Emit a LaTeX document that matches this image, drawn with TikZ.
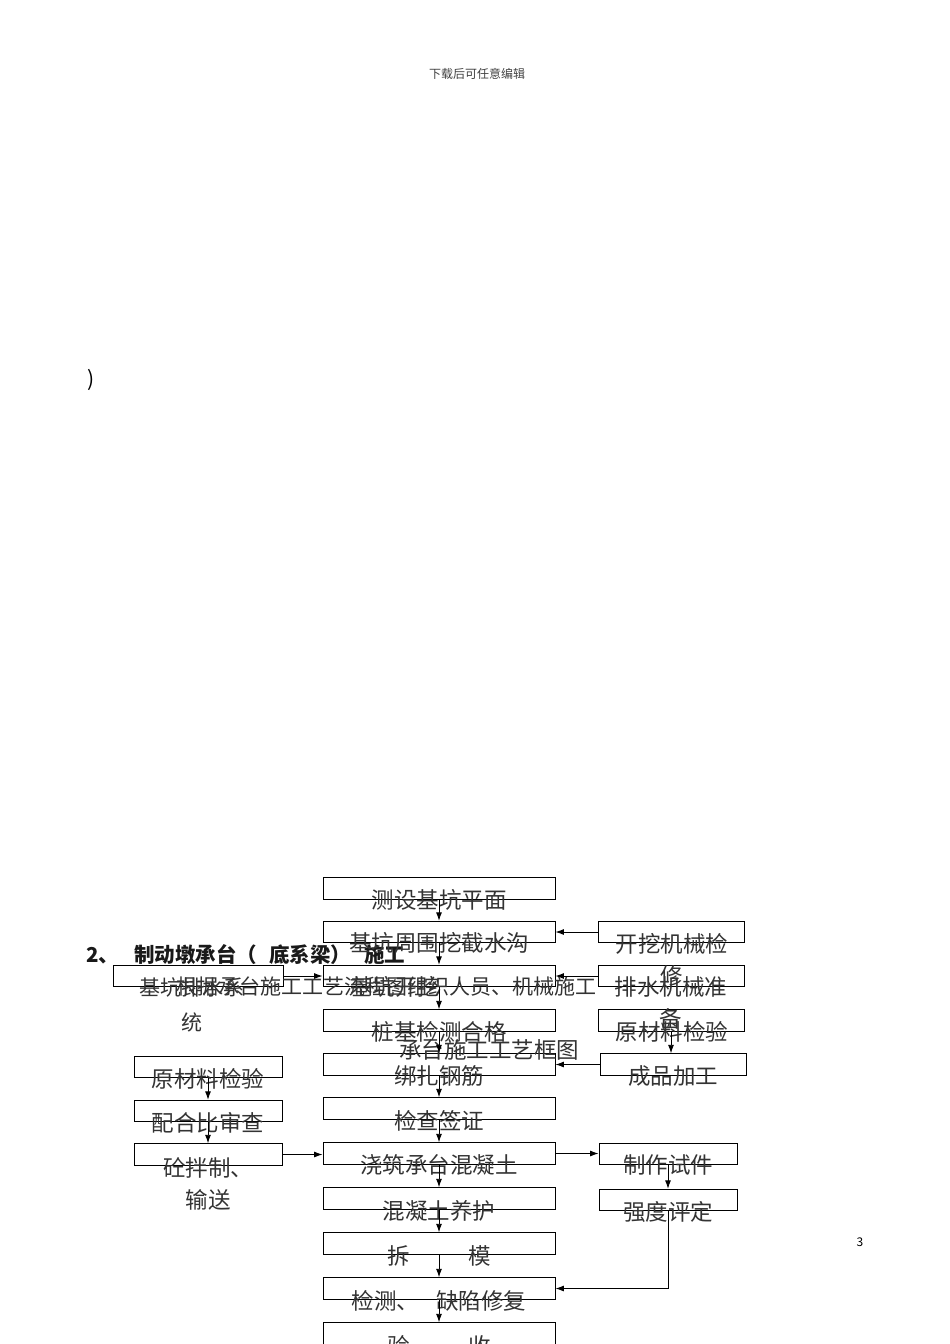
\documentclass[tikz,border=0pt]{standalone}
\usepackage{fontspec}
\setmainfont{Noto Sans CJK SC}
\usetikzlibrary{arrows.meta}

\begin{document}
\begin{tikzpicture}[x=1pt, y=-1pt,
    box/.style={draw, line width=0.9pt, inner sep=0pt, minimum height=21.5pt},
    midbox/.style={box, minimum width=232pt},
    sidebox/.style={box, minimum width=146pt},
    caption/.style={inner sep=0pt, align=center, text=black!80, font=\fontsize{22.5}{32}\selectfont},
    flow/.style={-{Latex[length=8.5pt,width=6pt]}, line width=0.9pt}]
  \useasboundingbox (0,0) rectangle (950,1344);

  \node[inner sep=0pt, text=black!75, font=\fontsize{12}{12}\selectfont] (header) at (477,74) {下载后可任意编辑};
  \node[inner sep=0pt, font=\fontsize{21}{21}\selectfont] (paren) at (91,380) {)};
  \node[inner sep=0pt, font=\fontsize{12}{12}\selectfont] (pagenum) at (860,1242) {3};

  \node[midbox] (c1) at (439,888.5) {};
  \node[midbox] (c2) at (439,932) {};
  \node[midbox] (c3) at (439,976) {};
  \node[midbox] (c4) at (439,1020.5) {};
  \node[midbox] (c5) at (439,1064.5) {};
  \node[midbox] (c6) at (439,1108.5) {};
  \node[midbox] (c7) at (439,1153.5) {};
  \node[midbox] (c8) at (439,1198.5) {};
  \node[midbox] (c9) at (439,1243.5) {};
  \node[midbox] (c10) at (439,1288.5) {};
  \node[midbox] (c11) at (439,1333.5) {};

  \node[sidebox] (r1) at (671,932) {};
  \node[sidebox] (r2) at (671,976) {};
  \node[sidebox] (r3) at (671,1020.5) {};
  \node[sidebox] (r4) at (673,1064.5) {};
  \node[box, minimum width=138pt] (r5) at (668,1154) {};
  \node[box, minimum width=138pt] (r6) at (668,1200) {};

  \node[box, minimum width=170pt] (l0) at (198,976) {};
  \node[box, minimum width=148pt] (l1) at (208,1067) {};
  \node[box, minimum width=148pt] (l2) at (208,1111) {};
  \node[box, minimum width=148pt] (l3) at (208,1154.5) {};

  \node[anchor=west, inner sep=0pt, text=black!90, font=\fontsize{20.5}{20.5}\selectfont\bfseries] (title) at (86,955)
    {2、\hspace{15pt}制动墩承台（\hspace{12pt}底系梁）\hspace{13pt}施工};
  \node[anchor=west, inner sep=0pt, text=black!80, font=\fontsize{21}{21}\selectfont] (para) at (176,987)
    {根据承台施工工艺流程图组织人员、机械施工};
  \node[caption] (figtitle) at (489,1050) {承台施工工艺框图};

  \node[caption] (t1) at (439,900) {测设基坑平面};
  \node[caption] (t2) at (439,943) {基坑周围挖截水沟};
  \node[caption] (t3) at (395,987) {基坑开挖};
  \node[caption] (t4) at (439,1032) {桩基检测合格};
  \node[caption] (t5) at (439,1076) {绑扎钢筋};
  \node[caption] (t6) at (439,1121) {检查签证};
  \node[caption] (t7) at (439,1165) {浇筑承台混凝土};
  \node[caption] (t8) at (439,1211) {混凝土养护};
  \node[caption] (t9) at (439,1256) {拆\hspace{59pt}模};
  \node[caption] (t10) at (439,1301) {检测、\hspace{17pt}缺陷修复};
  \node[caption] (t11) at (439,1346) {验\hspace{59pt}收};

  \node[caption, anchor=north] (tr1) at (672,933) {开挖机械检\\修};
  \node[caption, anchor=north] (tr2) at (671,976) {排水机械准\\备};
  \node[caption] (tr3) at (672,1032) {原材料检验};
  \node[caption] (tr4) at (673,1076) {成品加工};
  \node[caption] (tr5) at (668,1165) {制作试件};
  \node[caption] (tr6) at (668,1212) {强度评定};

  \node[caption, anchor=north, font=\fontsize{21}{35}\selectfont] (tl0) at (192,977) {基坑排水系\\统};
  \node[caption] (tl1) at (208,1079) {原材料检验};
  \node[caption] (tl2) at (208,1123) {配合比审查};
  \node[caption, anchor=north] (tl3) at (208,1157) {砼拌制、\\输送};

  \draw[flow] (c1) -- (c2);
  \draw[flow] (c2) -- (c3);
  \draw[flow] (c3) -- (c4);
  \draw[flow] (c4) -- (c5);
  \draw[flow] (c5) -- (c6);
  \draw[flow] (c6) -- (c7);
  \draw[flow] (c7) -- (c8);
  \draw[flow] (c8) -- (c9);
  \draw[flow] (c9) -- (c10);
  \draw[flow] (c10) -- (c11);

  \draw[flow] (r1) -- (c2);
  \draw[flow] (r2) -- (c3);
  \draw[flow] (r3.south) -- (r3.south |- r4.north);
  \draw[flow] (r4) -- (c5);
  \draw[flow] (l0) -- (c3);
  \draw[flow] (l1) -- (l2);
  \draw[flow] (l2) -- (l3);
  \draw[flow] (l3.east) -- (l3.east -| c7.west);
  \draw[flow] (c7.east) -- (c7.east -| r5.west);
  \draw[flow] (r5) -- (r6);
  \draw[flow] (r6.south) |- (c10.east);
\end{tikzpicture}
\end{document}
